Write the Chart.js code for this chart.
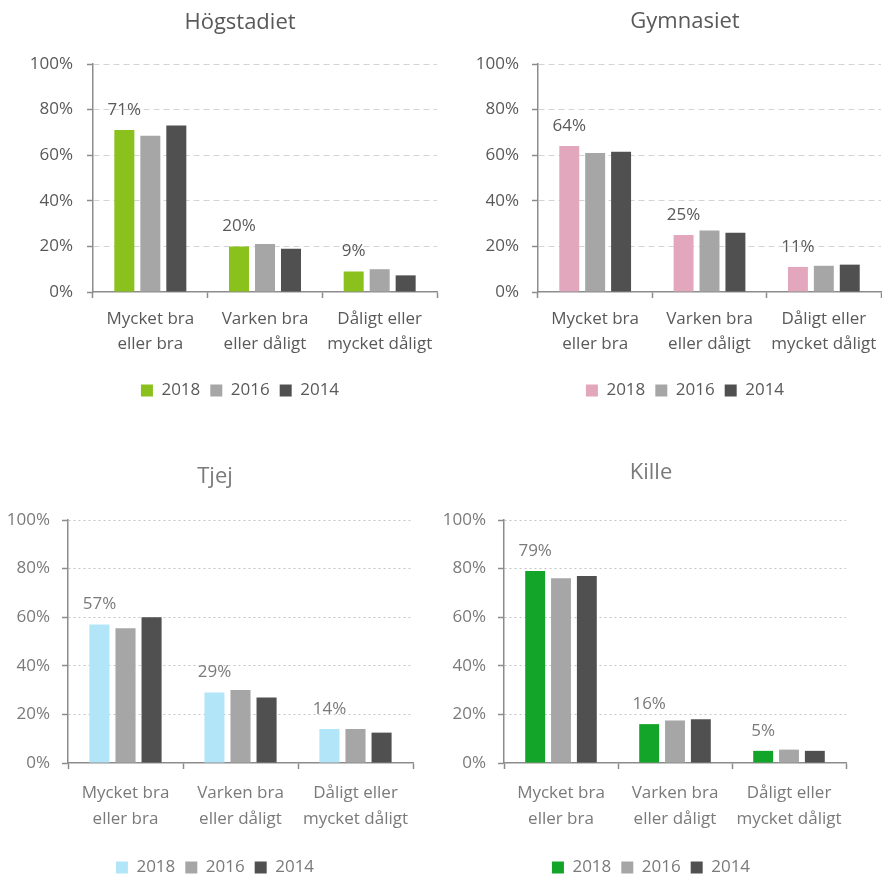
<!DOCTYPE html>
<html>
<head>
<meta charset="utf-8">
<script src="https://cdn.jsdelivr.net/npm/chart.js@4.4.0/dist/chart.umd.min.js"></script>
<style>
body{margin:0;background:#fff;overflow:hidden;width:882px;height:876px;position:relative}
.box{position:absolute}
</style>
<script>

var categories=[["Mycket bra","eller bra"],["Varken bra","eller dåligt"],["Dåligt eller","mycket dåligt"]];
var years=["2018","2016","2014"];
var yTicks=[0,20,40,60,80,100];

var hog2018=[71,20,9];
var hog2016=[68.5,21,10];
var hog2014=[73,19,7.3];

var gym2018=[64,25,11];
var gym2016=[61,27,11.5];
var gym2014=[61.5,26,12];

var tjej2018=[57,29,14];
var tjej2016=[55.5,30,14];
var tjej2014=[60,27,12.5];

var kille2018=[79,16,5];
var kille2016=[76,17.5,5.5];
var kille2014=[77,18,5];

var valueLabels={
	id:"valueLabels",
	afterDatasetsDraw:function(chart){
		var o=chart.options.plugins.valueLabels;
		var ctx=chart.ctx;
		var meta=chart.getDatasetMeta(0);
		ctx.save();
		ctx.font=o.size+"px 'Open Sans'";
		ctx.fillStyle=o.color;
		ctx.textAlign="center";
		ctx.textBaseline="middle";
		meta.data.forEach(function(bar,i){
			ctx.fillText(Math.round(chart.data.datasets[0].data[i])+"%",bar.x,bar.y-20);
		});
		ctx.restore();
	}
};

function makeChart(id,title,color2018,d2018,d2016,d2014,s)
{
	var font={family:"'Open Sans'",size:17};
	new Chart(document.getElementById(id),{
		type:"bar",
		data:{
			labels:categories,
			datasets:[
				{label:years[0],data:d2018,backgroundColor:color2018},
				{label:years[1],data:d2016,backgroundColor:"#a6a6a6"},
				{label:years[2],data:d2014,backgroundColor:"#505050"}
			]
		},
		options:{
			responsive:false,
			animation:false,
			categoryPercentage:0.68,
			barPercentage:0.77,
			layout:{padding:{left:0,right:0,top:0,bottom:s.padB}},
			plugins:{
				title:{display:true,text:title,color:s.text,font:{family:"'Open Sans'",size:22,weight:"normal"},padding:{top:s.titleTop-1,bottom:s.titleBottom-1.4}},
				legend:{position:"bottom",labels:{boxWidth:12,boxHeight:12,padding:10,color:s.text,font:font}},
				tooltip:{enabled:false},
				valueLabels:{size:17,color:s.text}
			},
			scales:{
				x:{
					grid:{drawOnChartArea:false,tickLength:6,tickColor:"#8c8c8c",tickWidth:1.5},
					border:{color:"#8c8c8c",width:1.5},
					ticks:{color:s.text,font:{family:"'Open Sans'",size:17,lineHeight:s.lh},padding:s.xPad,maxRotation:0,autoSkip:false},
					afterFit:function(sc){sc.height=s.xH;}
				},
				y:{
					min:0,max:100,
					afterBuildTicks:function(sc){sc.ticks=yTicks.map(function(v){return {value:v};});},
					ticks:{color:s.text,font:font,padding:s.yPad,callback:function(v){return v+"%";}},
					grid:{color:function(c){return c.tick&&c.tick.value===0?"rgba(0,0,0,0)":s.grid;},tickColor:"#8c8c8c",tickLength:6,tickWidth:1.5,tickBorderDash:[]},
					border:{color:"#8c8c8c",width:1.5,dash:s.dash},
					afterFit:function(sc){sc.width=s.yW;}
				},
				spacer:{
					type:"linear",position:"right",
					grid:{display:false,drawTicks:false},
					ticks:{display:false},
					border:{display:false},
					afterFit:function(sc){sc.width=s.padR;}
				}
			}
		},
		plugins:[valueLabels]
	});
}

window.onload=function(){
	var top={text:"#595959",grid:"#d4d4d4",dash:[6,4],lh:1.47,xPad:9,xH:80,padB:11};
	var bot={text:"#7a7a7a",grid:"#c4c4c4",dash:[2,3],lh:1.53,xPad:11,xH:86,padB:4};
	makeChart("hog","Högstadiet","#8bc11c",hog2018,hog2016,hog2014,Object.assign({},top,{padR:43,yW:93,yPad:14,titleTop:11,titleBottom:29}));
	makeChart("gym","Gymnasiet","#e3a7bd",gym2018,gym2016,gym2014,Object.assign({},top,{padR:19,yW:68,yPad:13,titleTop:10,titleBottom:30}));
	makeChart("tjej","Tjej","#b3e5f8",tjej2018,tjej2016,tjej2014,Object.assign({},bot,{padR:17,yW:68,yPad:12,titleTop:15,titleBottom:31}));
	makeChart("kille","Kille","#12a52a",kille2018,kille2016,kille2014,Object.assign({},bot,{padR:15,yW:63,yPad:12,titleTop:11,titleBottom:35}));
};
</script>
</head>
<body>
<div class="box" style="left:0;top:0"><canvas id="hog" width="480" height="420"></canvas></div>
<div class="box" style="left:470px;top:0"><canvas id="gym" width="430" height="420"></canvas></div>
<div class="box" style="left:0;top:450px"><canvas id="tjej" width="430" height="440"></canvas></div>
<div class="box" style="left:441px;top:450px"><canvas id="kille" width="420" height="440"></canvas></div>
</body>
</html>
